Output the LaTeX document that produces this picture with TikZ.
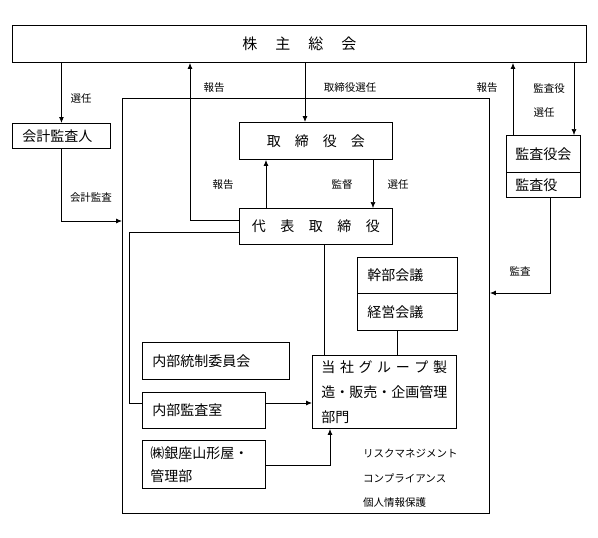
\documentclass[tikz,border=0pt]{standalone}
\usepackage{fontspec}
\setmainfont{Noto Sans CJK JP}
\usetikzlibrary{arrows.meta}
\begin{document}
\begin{tikzpicture}[x=1pt,y=-1pt,
  box/.style={draw, line width=0.9pt, anchor=north west, inner ysep=0pt, font=\fontsize{14}{25}\selectfont},
  lbox/.style={box, align=left},
  lbl/.style={font=\fontsize{10.5}{12}\selectfont, inner sep=0pt},
  ln/.style={line width=0.9pt},
  thin/.style={line width=0.6pt},
  arr/.style={line width=0.9pt, -{Latex[length=6pt,width=5pt]}}]
\useasboundingbox (0,0) rectangle (598,538);

% frame
\node[draw, line width=0.9pt, anchor=north west, minimum width=367pt, minimum height=415pt, inner sep=0pt] (fr) at (122,98) {};

% boxes
\node[box, minimum width=574pt, minimum height=37pt, font=\fontsize{15}{18}\selectfont] (gm) at (12,25) {株\hspace{18pt}主\hspace{18pt}総\hspace{18pt}会};
\node[lbox, minimum height=25pt, text width=78pt, inner xsep=10pt] (kk) at (12,123) {会計監査人};
\node[box, minimum width=153pt, minimum height=37pt] (tk) at (239,122) {取\hspace{14pt}締\hspace{14pt}役\hspace{14pt}会};
\node[box, minimum width=153pt, minimum height=36pt] (dh) at (239,208) {代\hspace{14.5pt}表\hspace{14.5pt}取\hspace{14.5pt}締\hspace{14.5pt}役};
\node[lbox, minimum height=37pt, text width=56pt, inner xsep=9pt] (ksk) at (506,135) {監査役会};
\node[lbox, minimum height=25pt, text width=56pt, inner xsep=9pt] (ks) at (506,172) {監査役};
\node[lbox, minimum height=36pt, text width=80pt, inner xsep=10pt] (kb) at (357,257) {幹部会議};
\node[lbox, minimum height=37pt, text width=80pt, inner xsep=10pt] (ke) at (357,293) {経営会議};
\node[lbox, minimum height=37pt, text width=127pt, inner xsep=10pt] (nt) at (142,342) {内部統制委員会};
\node[lbox, minimum height=73pt, text width=126pt, inner xsep=9pt] (ts) at (312,355) {当\hspace{4.6pt}社\hspace{4.6pt}グ\hspace{4.6pt}ル\hspace{4.6pt}ー\hspace{4.6pt}プ\hspace{4.6pt}製\\造・販売・企画管理\\部門};
\node[lbox, minimum height=36pt, text width=103pt, inner xsep=10pt] (nk) at (142,392) {内部監査室};
\node[lbox, minimum height=48pt, text width=107pt, inner xsep=8pt, font=\fontsize{14}{23}\selectfont] (gz) at (142,440) {㈱銀座山形屋・\\管理部};

% connectors
\draw[arr] (kk.north |- gm.south) -- (kk.north);
\draw[arr] (kk.south) |- (fr.west |- 0,221);
\draw[arr] (dh.west |- 0,220) -| (gm.south -| 190,0);
\draw[arr] (gm.south -| 305,0) -- (tk.north -| 305,0);
\draw[arr] (ksk.north -| 513,0) -- (gm.south -| 513,0);
\draw[arr, thin] (gm.south -| 574,0) -- (ksk.north -| 574,0);
\draw[arr] (dh.north -| 266,0) -- (tk.south -| 266,0);
\draw[arr, thin] (tk.south -| 373,0) -- (dh.north -| 373,0);
\draw[ln] (dh.west |- 0,232) -| (129,403) -- (nk.west |- 0,403);
\draw[ln] (dh.south -| 324,0) -- (ts.north -| 324,0);
\draw[ln] (ke.south -| 397,0) -- (ts.north -| 397,0);
\draw[arr] (nk.east |- 0,403) -- (ts.west |- 0,403);
\draw[arr] (gz.east |- 0,465) -| (ts.south -| 330,0);
\draw[arr] (ks.south -| 550,0) |- (fr.east |- 0,293);

% labels
\node[lbl] (l1) at (81,99) {選任};
\node[lbl] (l2) at (214,88) {報告};
\node[lbl] (l3) at (350,88) {取締役選任};
\node[lbl] (l4) at (487,88) {報告};
\node[lbl] (l5) at (549,89) {監査役};
\node[lbl] (l6) at (544,113) {選任};
\node[lbl] (l7) at (91,198) {会計監査};
\node[lbl] (l8) at (223,185) {報告};
\node[lbl] (l9) at (342,185) {監督};
\node[lbl] (l10) at (398,185) {選任};
\node[lbl] (l11) at (520,271) {監査};
\node[lbl, anchor=west] (r1) at (363,453) {リスクマネジメント};
\node[lbl, anchor=west] (r2) at (363,478) {コンプライアンス};
\node[lbl, anchor=west] (r3) at (363,503) {個人情報保護};
\end{tikzpicture}
\end{document}
